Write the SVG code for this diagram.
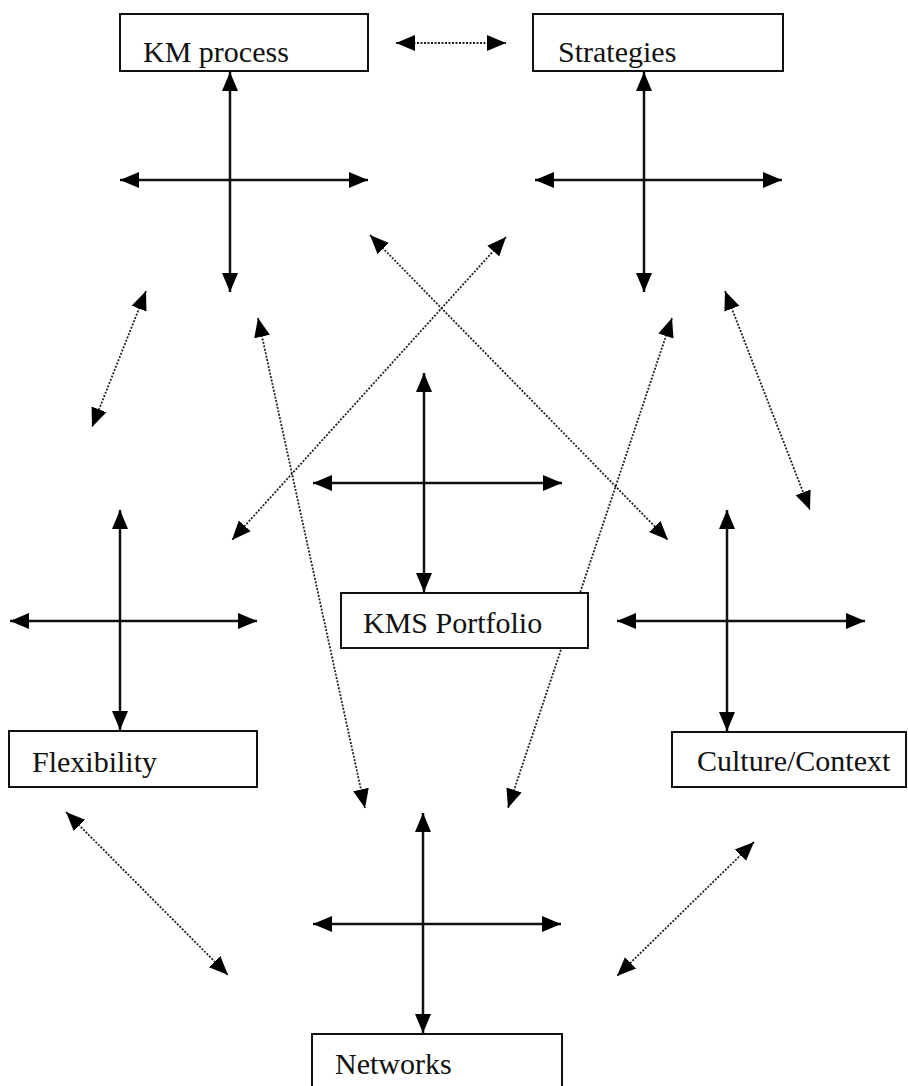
<svg xmlns="http://www.w3.org/2000/svg" width="908" height="1086" viewBox="0 0 908 1086">
<style>
.box{fill:#fff;stroke:#111;stroke-width:2}
.lbl{font-family:"Liberation Serif","Times New Roman",serif;font-size:30px;fill:#111}
.solid{stroke:#111;stroke-width:2.5;fill:none;marker-start:url(#ah);marker-end:url(#ah)}
.dot{stroke:#222;stroke-width:1.8;stroke-dasharray:2 1.5;fill:none;marker-start:url(#ah);marker-end:url(#ah)}
</style>
<defs>
<marker id="ah" markerUnits="userSpaceOnUse" markerWidth="20" markerHeight="18" refX="19" refY="9" orient="auto-start-reverse" viewBox="0 0 20 18">
<path d="M0,1 L19,9 L0,17 z" fill="#000"/>
</marker>
</defs>
<rect width="908" height="1086" fill="#fff"/>
<g id="connectors">
<line class="dot" x1="396" y1="43" x2="506" y2="43"/>
<line class="solid" x1="230" y1="72" x2="230" y2="292"/>
<line class="solid" x1="120" y1="180" x2="368" y2="180"/>
<line class="solid" x1="644" y1="72" x2="644" y2="292"/>
<line class="solid" x1="535" y1="180" x2="782" y2="180"/>
<line class="solid" x1="424" y1="373" x2="424" y2="592"/>
<line class="solid" x1="313" y1="483" x2="562" y2="483"/>
<line class="solid" x1="120" y1="510" x2="120" y2="730"/>
<line class="solid" x1="10" y1="621" x2="257" y2="621"/>
<line class="solid" x1="727" y1="510" x2="727" y2="731"/>
<line class="solid" x1="617" y1="621" x2="865" y2="621"/>
<line class="solid" x1="423" y1="813" x2="423" y2="1033"/>
<line class="solid" x1="313" y1="924" x2="561" y2="924"/>
<line class="dot" x1="146" y1="291" x2="92" y2="427"/>
<line class="dot" x1="725" y1="291" x2="810" y2="510"/>
<line class="dot" x1="370" y1="235" x2="668" y2="540"/>
<line class="dot" x1="506" y1="237" x2="232" y2="540"/>
<line class="dot" x1="258" y1="318" x2="365" y2="808"/>
<line class="dot" x1="672" y1="318" x2="508" y2="808"/>
<line class="dot" x1="66" y1="812" x2="228" y2="975"/>
<line class="dot" x1="754" y1="842" x2="617" y2="976"/>
</g>
<g id="km-process">
<rect class="box" x="120" y="14" width="248" height="57"/>
<text class="lbl" x="143" y="62">KM process</text>
</g>
<g id="strategies">
<rect class="box" x="533" y="14" width="250" height="57"/>
<text class="lbl" x="558" y="62">Strategies</text>
</g>
<g id="kms-portfolio">
<rect class="box" x="341" y="593" width="247" height="55"/>
<text class="lbl" x="363" y="633">KMS Portfolio</text>
</g>
<g id="flexibility">
<rect class="box" x="9" y="731" width="248" height="56"/>
<text class="lbl" x="32" y="772">Flexibility</text>
</g>
<g id="culture-context">
<rect class="box" x="672" y="732" width="234" height="55"/>
<text class="lbl" x="697" y="771">Culture/Context</text>
</g>
<g id="networks">
<rect class="box" x="312" y="1034" width="250" height="60"/>
<text class="lbl" x="335" y="1074">Networks</text>
</g>
</svg>
